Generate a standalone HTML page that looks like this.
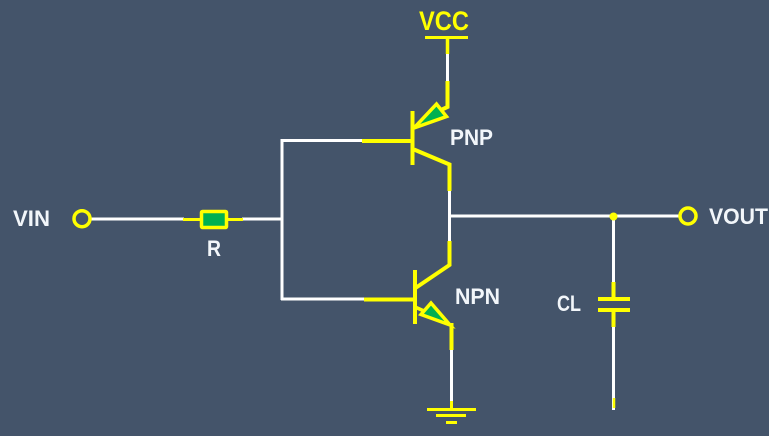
<!DOCTYPE html>
<html>
<head>
<meta charset="utf-8">
<style>
html,body{margin:0;padding:0;background:#44546A;}
svg{display:block;}
text{font-family:"Liberation Sans",sans-serif;font-weight:bold;}
</style>
</head>
<body>
<svg width="769" height="436" viewBox="0 0 769 436" xmlns="http://www.w3.org/2000/svg">
<rect width="769" height="436" fill="#44546A"/>
<!-- white wires -->
<g stroke="#fff" stroke-width="3" fill="none">
  <line x1="91" y1="219" x2="184" y2="219"/>
  <line x1="242" y1="219" x2="282" y2="219"/>
  <line x1="282" y1="139" x2="282" y2="300"/>
  <line x1="281" y1="140.5" x2="363" y2="140.5"/>
  <line x1="281" y1="299" x2="365" y2="299"/>
  <line x1="447.5" y1="53" x2="447.5" y2="82"/>
  <line x1="449.5" y1="190" x2="449.5" y2="242"/>
  <line x1="449" y1="216" x2="680" y2="216"/>
  <line x1="451.5" y1="349" x2="451.5" y2="402"/>
  <line x1="613.5" y1="216" x2="613.5" y2="283"/>
  <line x1="613.5" y1="326" x2="613.5" y2="410"/>
</g>
<!-- yellow -->
<g stroke="#FFFF00" fill="none">
  <!-- VCC -->
  <line x1="425" y1="37.5" x2="468" y2="37.5" stroke-width="3"/>
  <line x1="447.5" y1="37" x2="447.5" y2="54" stroke-width="3.5"/>
  <polyline points="447.5,81 447.5,107 441,110" stroke-width="4"/>
  <!-- PNP -->
  <line x1="412.5" y1="111" x2="412.5" y2="165" stroke-width="4"/>
  <line x1="362" y1="141" x2="413" y2="141" stroke-width="4"/>
  <polygon points="414,128 436.5,104 446.5,116.5" fill="#00B050" stroke-width="3.5" stroke-linejoin="miter"/>
  <polyline points="414,149.5 449.5,164.5 449.5,191" stroke-width="4"/>
  <!-- NPN -->
  <line x1="415" y1="270" x2="415" y2="324" stroke-width="4"/>
  <line x1="364" y1="299.5" x2="415" y2="299.5" stroke-width="4"/>
  <polyline points="449.5,241 449.5,265 414,289" stroke-width="4"/>
  <line x1="415" y1="307" x2="424" y2="311" stroke-width="3.5"/>
  <polygon points="431,303 421,314.5 450,325" fill="#00B050" stroke-width="3.5"/>
  <polyline points="450,325 451.5,325 451.5,350" stroke-width="4"/>
  <!-- GND -->
  <line x1="451.5" y1="401" x2="451.5" y2="409" stroke-width="3"/>
  <line x1="427" y1="409.5" x2="476" y2="409.5" stroke-width="3"/>
  <line x1="436" y1="415.5" x2="466" y2="415.5" stroke-width="3"/>
  <line x1="446" y1="422.5" x2="457" y2="422.5" stroke-width="3"/>
  <!-- Resistor -->
  <line x1="183" y1="219.5" x2="243" y2="219.5" stroke-width="3"/>
  <rect x="201.5" y="211.5" width="25" height="16" rx="1" fill="#00B050" stroke-width="3.5"/>
  <!-- terminals -->
  <circle cx="82" cy="218.7" r="8" fill="none" stroke-width="3.5"/>
  <circle cx="688" cy="216" r="8" fill="none" stroke-width="3.5"/>
  <!-- Capacitor -->
  <line x1="613.5" y1="282" x2="613.5" y2="298" stroke-width="4"/>
  <line x1="598" y1="299" x2="630" y2="299" stroke-width="4"/>
  <line x1="598" y1="310" x2="630" y2="310" stroke-width="4"/>
  <line x1="613.5" y1="310" x2="613.5" y2="327" stroke-width="4"/>
  <line x1="614" y1="398" x2="614" y2="408" stroke-width="2.5"/>
</g>
<circle cx="613.5" cy="216.5" r="4" fill="#FFFF00"/>
<!-- labels -->
<g font-size="22" fill="#F2F6FA">
  <text x="13" y="226" textLength="37" lengthAdjust="spacingAndGlyphs">VIN</text>
  <text x="207" y="256" textLength="14" lengthAdjust="spacingAndGlyphs">R</text>
  <text x="450" y="145" textLength="43" lengthAdjust="spacingAndGlyphs">PNP</text>
  <text x="455" y="304" textLength="45" lengthAdjust="spacingAndGlyphs">NPN</text>
  <text x="557" y="311" textLength="24" lengthAdjust="spacingAndGlyphs">CL</text>
  <text x="709" y="224" textLength="59" lengthAdjust="spacingAndGlyphs">VOUT</text>
</g>
<text x="419" y="30" font-size="27" fill="#FFFF00" textLength="50" lengthAdjust="spacingAndGlyphs">VCC</text>
</svg>
</body>
</html>
